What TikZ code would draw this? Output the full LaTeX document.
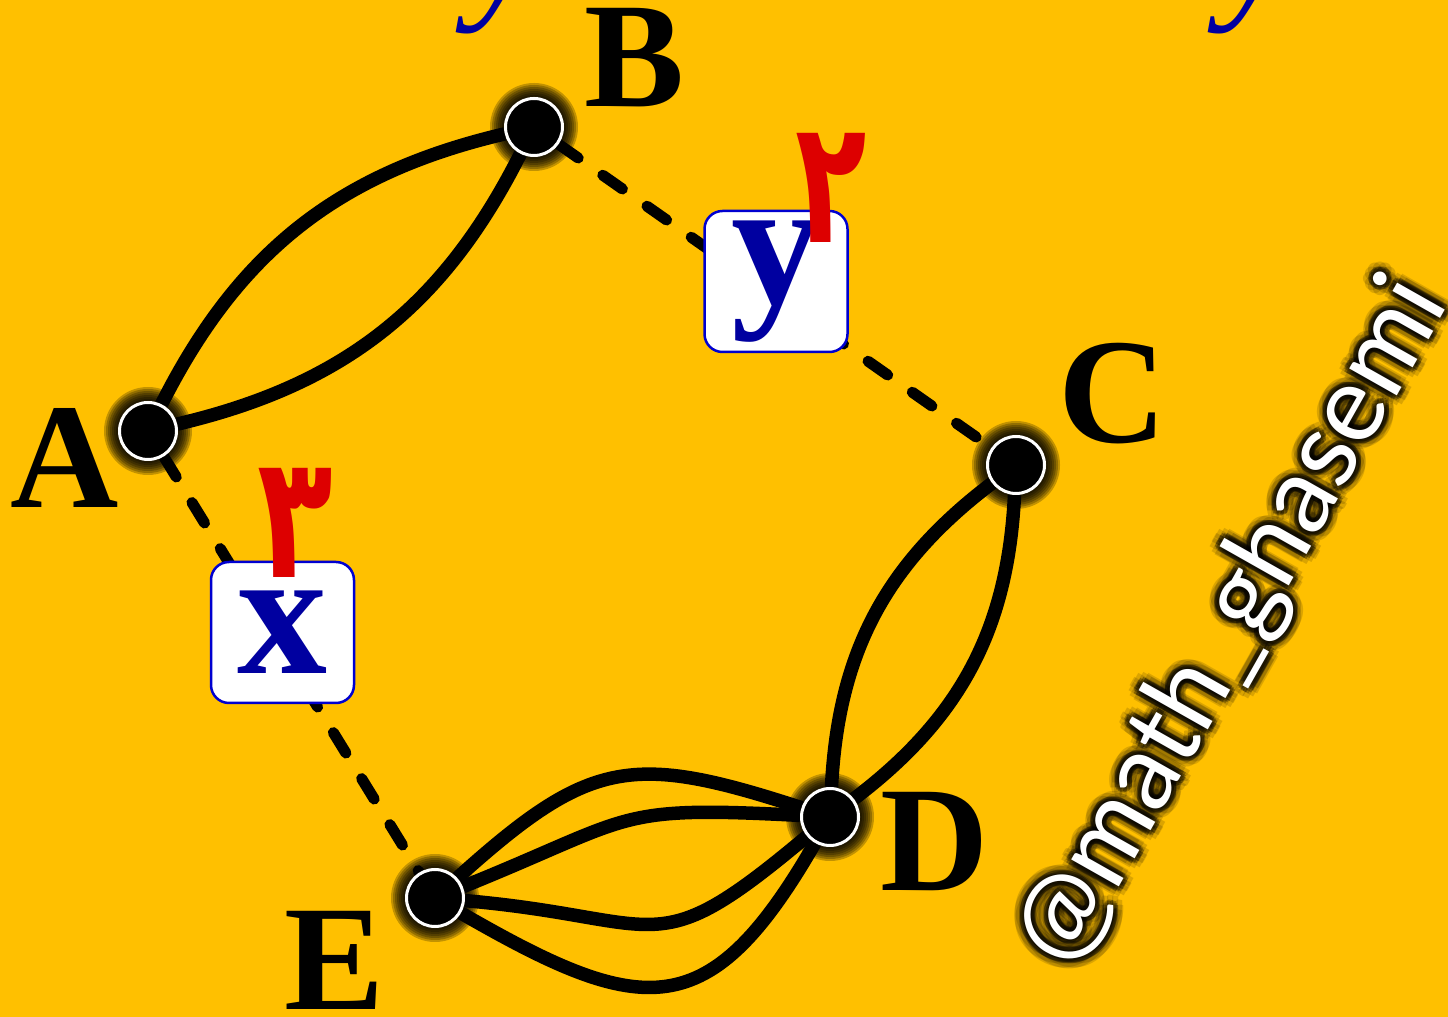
\documentclass[tikz,border=0pt]{standalone}
\usepackage{fontspec}
\setmainfont{Liberation Serif}
\newfontfamily\arabicfont[Script=Arabic]{DejaVu Sans}
\newfontfamily\handfont{Lato}
\TeXXeTstate=1
\definecolor{bgc}{HTML}{FFC000}
\definecolor{lblue}{HTML}{0000A0}
\definecolor{bblue}{HTML}{0000D0}
\definecolor{dred}{HTML}{DD0000}
\pgfdeclarelayer{glowl}
\pgfdeclarelayer{edgel}
\pgfdeclarelayer{front}
\pgfsetlayers{glowl,edgel,main,front}
\tikzset{
  vertex/.style={circle, fill=black, draw=white, line width=3pt,
    minimum size=57pt, inner sep=0pt},
  multiedge/.style={line width=13.5pt, black},
  dashedge/.style={line width=11pt, black, line cap=round,
    dash pattern=on 24pt off 30pt},
  lettbox/.style={draw=bblue, line width=2.5pt, fill=white,
    rounded corners=18pt, minimum width=143pt, minimum height=141pt,
    inner sep=0pt},
  boxletter/.style={text=lblue, inner sep=0pt,
    font=\fontsize{180}{180}\selectfont\bfseries},
  vlabel/.style={inner sep=0pt, font=\fontsize{150}{150}\selectfont\bfseries},
  digit/.style={text=dred, inner sep=0pt,
    font=\fontsize{172}{172}\selectfont\arabicfont\bfseries},
  toptext/.style={text=lblue, inner sep=0pt, anchor=base west,
    font=\fontsize{160}{160}\selectfont\itshape},
  wmark/.style={inner sep=0pt, rotate=60.5,
    font=\fontsize{108}{108}\selectfont\handfont},
}
\newcommand\glowat[1]{%
  \foreach \r in {30,32,...,44}{\fill[black, opacity=0.24] (#1) circle (\r);}}
\begin{document}
\begin{tikzpicture}[x=1pt, y=1pt]
\useasboundingbox (0,0) rectangle (1448,1017);

% background and soft halos behind the vertices
\begin{pgfonlayer}{glowl}
  \fill[bgc] (0,0) rectangle (1448,1017);
  \glowat{148,586}
  \glowat{534,890}
  \glowat{1016,552}
  \glowat{830,200}
  \glowat{435,119}
\end{pgfonlayer}

% descenders of the heading line running off the top edge
\begin{scope}
  \clip (0,0) rectangle (1448,1017);
  \node[toptext] (ty1) at (469,1017) {y};
  \node[toptext] (ty2) at (1221,1017) {y};
\end{scope}

% vertices
\node[vertex] (A) at (148,586) {};
\node[vertex] (B) at (534,890) {};
\node[vertex] (C) at (1016,552) {};
\node[vertex] (D) at (830,200) {};
\node[vertex] (E) at (435,119) {};

% vertex names
\node[vlabel] (lA) at (65,559) {A};
\node[vlabel] (lB) at (635,959) {B};
\node[vlabel] (lC) at (1113,623) {C};
\node[vlabel] (lD) at (935,175) {D};
\node[vlabel] (lE) at (335,57) {E};

% edges
\begin{pgfonlayer}{edgel}
  \draw[multiedge] (A) to[bend left=25] (B);
  \draw[multiedge] (A) to[bend right=25] (B);
  \draw[multiedge] (D) to[bend left=25] (C);
  \draw[multiedge] (D) to[bend right=25] (C);
  \draw[multiedge] (E) to[out=42, in=162, looseness=1.3] (D);
  \draw[multiedge] (E) to[out=22, in=177, looseness=1.4] (D);
  \draw[multiedge] (E) to[out=-5, in=220, looseness=1.5] (D);
  \draw[multiedge] (E) to[out=-30, in=240, looseness=1.5] (D);
  \draw[dashedge] (A) -- (E);
  \draw[dashedge] (B) -- (C);
\end{pgfonlayer}

% unknown edge counts
\node[lettbox] (bx) at (282.5,384.5) {};
\node[boxletter] (tx) at (bx.center) {x};
\node[lettbox] (by) at (776,735.5) {};
\node[boxletter] (ty) at (by.center) {y};

\begin{pgfonlayer}{front}
  \node[digit] (d3) at (295,494) {\scalebox{0.72}[1]{\beginR ۳\endR}};
  \node[digit] (d2) at (831,829) {\scalebox{0.68}[1]{\beginR ۲\endR}};
\end{pgfonlayer}

% signature with a dark halo
\foreach \a in {0,30,...,330}{
  \node[wmark, text=black, opacity=0.14] at ([shift={(\a:10)}]1234,394) {@math\_ghasemi};
  \node[wmark, text=black, opacity=0.3] at ([shift={(\a:5)}]1234,394) {@math\_ghasemi};
}
\node[wmark, text=white] (wm) at (1234,394) {@math\_ghasemi};
\end{tikzpicture}
\end{document}
